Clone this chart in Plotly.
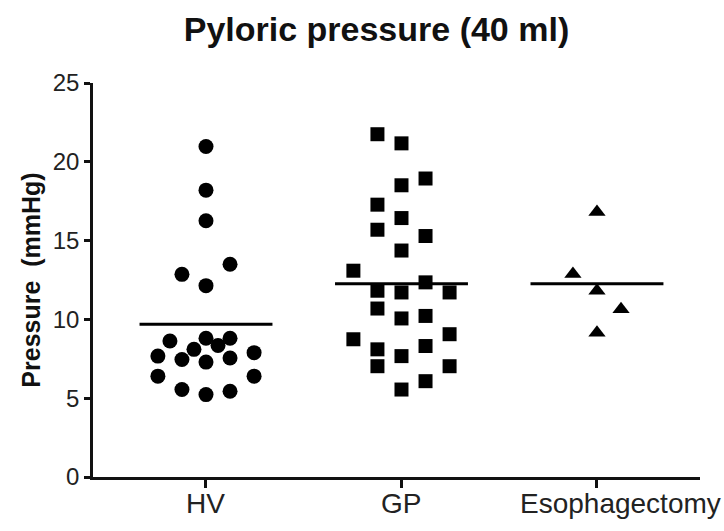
import numpy as np
import plotly.graph_objects as go

groups = ["HV", "GP", "Esophagectomy"]

# pyloric pressure (mmHg) per subject
hv_values = [20.97, 18.2, 16.26, 12.86, 13.5, 12.14, 8.63, 8.80, 8.35, 8.80, 8.10,
             7.46, 7.67, 7.29, 7.55, 7.89, 6.40, 6.40, 5.55, 5.23, 5.44]
gp_values = [21.75, 21.17, 18.51, 18.94, 17.28, 16.43, 15.69, 15.29, 14.37, 13.09,
             12.35, 11.82, 11.71, 11.71, 10.69, 10.06, 10.22, 8.74, 9.06, 8.10,
             8.31, 7.67, 7.03, 7.03, 6.08, 5.55]
eso_values = [16.82, 12.88, 11.82, 10.65, 9.16]

# horizontal scatter columns (dot-plot slots) for each subject
hv_slots = [0, 0, 0, -2, 2, 0, -3, 0, 1, 2, -1, -2, -4, 0, 2, 4, -4, 4, -2, 0, 2]
gp_slots = [-2, 0, 0, 2, -2, 0, -2, 2, 0, -4, 2, -2, 0, 4, -2, 0, 2, -4, 4, -2,
            2, 0, -2, 4, 2, 0]
eso_slots = [0, -2, 0, 2, 0]

y_ticks = [0, 5, 10, 15, 20, 25]

SLOT = 0.0615
HALF_LINE = 0.34
FONT = "Liberation Sans, Arial, sans-serif"

series = [
    (hv_values, hv_slots, "circle", 15),
    (gp_values, gp_slots, "square", 14),
    (eso_values, eso_slots, "triangle-up", 15),
]

fig = go.Figure()
for i, (vals, slots, symbol, size) in enumerate(series):
    xs = [i + s * SLOT for s in slots]
    fig.add_trace(go.Scatter(
        x=xs, y=vals, mode="markers",
        marker=dict(symbol=symbol, size=size, color="black", line=dict(width=0)),
        showlegend=False, hoverinfo="y",
    ))
    m = float(np.mean(vals))
    fig.add_trace(go.Scatter(
        x=[i - HALF_LINE, i + HALF_LINE], y=[m, m], mode="lines",
        line=dict(color="black", width=3), showlegend=False, hoverinfo="skip",
    ))

# category labels under the x axis (the long one nudged right to stay in view)
label_shift = [0, 0, 24]
for i, (name, dx) in enumerate(zip(groups, label_shift)):
    fig.add_annotation(
        x=i, y=0, xref="x", yref="paper", text=name, showarrow=False,
        xanchor="center", yanchor="top", yshift=-9, xshift=dx,
        font=dict(size=28, family=FONT, color="#222"),
    )

fig.update_layout(
    width=724, height=531,
    margin=dict(l=93, r=24, t=83, b=54),
    plot_bgcolor="white", paper_bgcolor="white",
    font=dict(family=FONT, color="#111"),
    title=dict(text="<b>Pyloric pressure (40 ml)</b>", x=0.52, xanchor="center",
               y=0.945, yanchor="middle", font=dict(size=34, family=FONT, color="#111")),
)
fig.update_xaxes(
    range=[-0.578, 2.527], tickmode="array", tickvals=[0, 1, 2], showticklabels=False,
    showgrid=False, zeroline=False, showline=True, linecolor="#111", linewidth=2.5,
    ticks="outside", ticklen=8, tickwidth=2.5, tickcolor="#111",
)
fig.update_yaxes(
    range=[0, 25], tickmode="array", tickvals=y_ticks,
    showgrid=False, zeroline=False, showline=True, linecolor="#111", linewidth=2.5,
    ticks="outside", ticklen=6, tickwidth=2.5, tickcolor="#111",
    tickfont=dict(size=24, family=FONT, color="#222"),
    title=dict(text="<b>Pressure  (mmHg)</b>", standoff=5,
               font=dict(size=25, family=FONT, color="#111")),
)

fig.write_html("out.html")
